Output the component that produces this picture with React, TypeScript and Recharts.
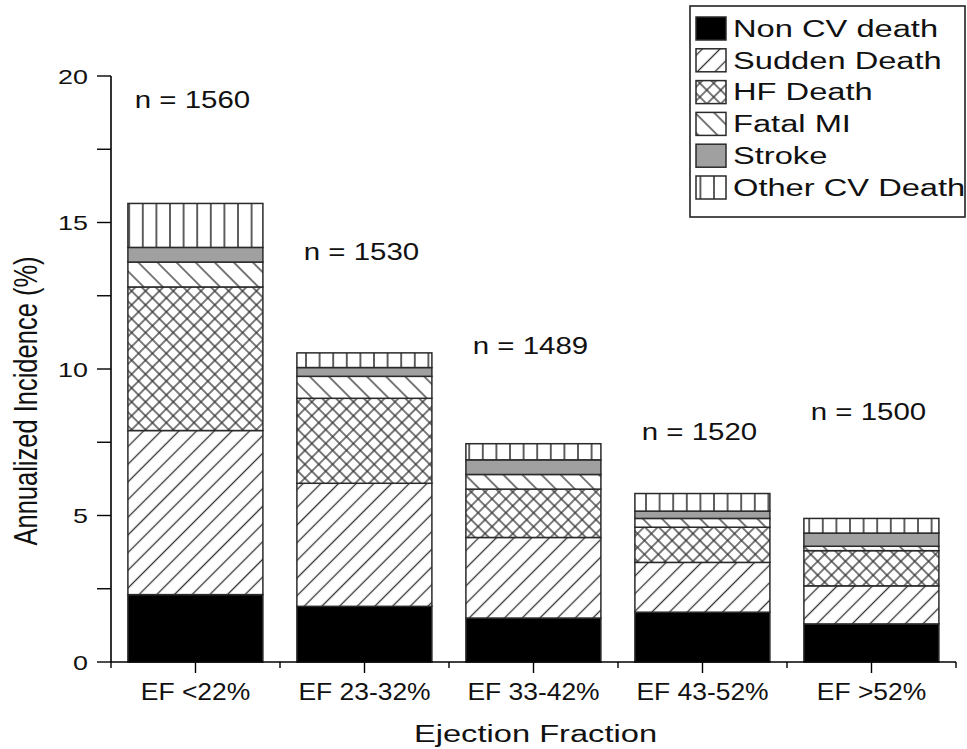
import React from 'react';
import { ComposedChart, Bar, Line, XAxis, YAxis, LabelList } from 'recharts';

// ---------- data ----------
const categories = ['EF <22%', 'EF 23-32%', 'EF 33-42%', 'EF 43-52%', 'EF >52%'];
const nonCvDeath = [2.3, 1.9, 1.5, 1.7, 1.3];
const suddenDeath = [5.6, 4.2, 2.75, 1.7, 1.3];
const hfDeath = [4.9, 2.9, 1.65, 1.2, 1.2];
const fatalMI = [0.85, 0.75, 0.5, 0.3, 0.15];
const strokeDeath = [0.5, 0.3, 0.5, 0.25, 0.45];
const otherCvDeath = [1.5, 0.5, 0.55, 0.6, 0.5];
const nCounts = [1560, 1530, 1489, 1520, 1500];
const nLabelLevel = [19.2, 14.0, 10.8, 7.85, 8.55];
const yTicks = [0, 2.5, 5, 7.5, 10, 12.5, 15, 17.5, 20];

const seriesKeys = ['nonCv', 'sudden', 'hf', 'mi', 'stroke', 'other'];
const seriesNames = ['Non CV death', 'Sudden Death', 'HF Death', 'Fatal MI', 'Stroke', 'Other CV Death'];
const seriesFills = ['#000000', 'url(#p-sudden)', 'url(#p-hf)', 'url(#p-mi)', '#a0a0a0', 'url(#p-other)'];

const data = categories.map((cat, i) => ({
  cat,
  nonCv: nonCvDeath[i],
  sudden: suddenDeath[i],
  hf: hfDeath[i],
  mi: fatalMI[i],
  stroke: strokeDeath[i],
  other: otherCvDeath[i],
  n: nCounts[i],
  nY: nLabelLevel[i],
}));

// ---------- layout ----------
const W = 967;
const H = 749;
const MARGIN = { top: 76, right: 11, bottom: 0, left: 0 };
const Y_AXIS_W = 111;
const X_AXIS_H = 87;
const PLOT_W = W - MARGIN.left - MARGIN.right - Y_AXIS_W;
const BAND = PLOT_W / categories.length;
const X_TICK_SIZE = 11;
const X_TICK_MARGIN = 10;
const FONT = '"Liberation Sans", Arial, Helvetica, sans-serif';
const TEXT = '#111';
const LINE = '#2a2a2a';

const SText = ({ x, y, sx = 1, fs, anchor = 'start', children }: any) => (
  <text
    transform={`translate(${x} ${y}) scale(${sx} 1)`}
    x={0}
    y={0}
    textAnchor={anchor}
    fontSize={fs}
    fontFamily={FONT}
    fill={TEXT}
  >
    {children}
  </text>
);

const XTick = (props: any) => {
  const { x, y, payload, index } = props;
  const axisY = y - X_TICK_SIZE - X_TICK_MARGIN;
  const half = BAND / 2;
  return (
    <g>
      <line x1={x - half} x2={x - half} y1={axisY} y2={axisY + 6} stroke="#000" strokeWidth={1.4} />
      {index === categories.length - 1 && (
        <line x1={x + half} x2={x + half} y1={axisY} y2={axisY + 6} stroke="#000" strokeWidth={1.4} />
      )}
      <SText x={x} y={y + 16.5} sx={1.15} fs={23} anchor="middle">
        {payload.value}
      </SText>
    </g>
  );
};

const YTick = (props: any) => {
  const { x, y, payload } = props;
  const v = payload.value;
  if (v % 5 !== 0) return <g />;
  return (
    <SText x={x} y={y + 7.5} sx={1.28} fs={21} anchor="end">
      {String(v)}
    </SText>
  );
};

const NLabel = (props: any) => {
  const { x, y, value, viewBox } = props;
  const cx = x ?? viewBox?.x;
  const cy = y ?? viewBox?.y;
  return (
    <SText x={cx - 3} y={cy + 8.2} sx={1.28} fs={23} anchor="middle">
      {`n = ${value}`}
    </SText>
  );
};

const makeShape = (fill: string) => (props: any) => {
  const { x, y, width, height } = props;
  if (width == null || height == null) return <g />;
  const h = Math.abs(height);
  const top = height < 0 ? y + height : y;
  return (
    <rect x={x} y={top} width={width} height={h} fill={fill} stroke={LINE} strokeWidth={1.5} />
  );
};

const Patterns = () => (
  <defs>
    <pattern id="p-sudden" patternUnits="userSpaceOnUse" width={12.5} height={12.5} patternTransform="rotate(45)">
      <rect width={12.5} height={12.5} fill="#fff" />
      <line x1={6.25} y1={-1} x2={6.25} y2={13.5} stroke="#333" strokeWidth={1.3} />
    </pattern>
    <pattern id="p-mi" patternUnits="userSpaceOnUse" width={13.5} height={13.5} patternTransform="rotate(-45)">
      <rect width={13.5} height={13.5} fill="#fff" />
      <line x1={6.75} y1={-1} x2={6.75} y2={14.5} stroke="#333" strokeWidth={1.3} />
    </pattern>
    <pattern id="p-hf" patternUnits="userSpaceOnUse" width={9.8} height={9.8} patternTransform="rotate(45)">
      <rect width={9.8} height={9.8} fill="#fff" />
      <line x1={4.9} y1={-1} x2={4.9} y2={10.8} stroke="#333" strokeWidth={1.3} />
      <line x1={-1} y1={4.9} x2={10.8} y2={4.9} stroke="#333" strokeWidth={1.3} />
    </pattern>
    <pattern id="p-other" patternUnits="userSpaceOnUse" width={13.6} height={10}>
      <rect width={13.6} height={10} fill="#fff" />
      <line x1={6.8} y1={-1} x2={6.8} y2={11} stroke="#444" strokeWidth={1.7} />
    </pattern>
  </defs>
);

const LegendBox = () => {
  const boxX = 690;
  const boxY = 6;
  const rowY0 = 28.5;
  const rowStep = 31.8;
  return (
    <g>
      <rect x={boxX} y={boxY} width={W - 2 - boxX} height={211} fill="#fff" stroke="#222" strokeWidth={1.6} />
      {seriesNames.map((name, i) => {
        const cy = rowY0 + i * rowStep;
        return (
          <g key={name}>
            <rect x={696} y={cy - 11.5} width={30} height={23} fill={seriesFills[i]} stroke={LINE} strokeWidth={1.5} />
            <SText x={733} y={cy + 8.3} sx={1.42} fs={23}>
              {name}
            </SText>
          </g>
        );
      })}
    </g>
  );
};

const XTitle = (props: any) => {
  const vb = props.viewBox || { x: 111, width: PLOT_W, y: 662 };
  return (
    <SText x={vb.x + vb.width / 2 + 2} y={742} sx={1.42} fs={23} anchor="middle">
      Ejection Fraction
    </SText>
  );
};

const YTitle = () => (
  <text
    transform={`translate(37 401) rotate(-90) scale(1 1.3)`}
    x={0}
    y={0}
    textAnchor="middle"
    fontSize={25.5}
    fontFamily={FONT}
    fill={TEXT}
  >
    Annualized Incidence (%)
  </text>
);

export default function App() {
  return (
    <div style={{ position: 'absolute', left: 0, top: 0, width: W, height: H, background: '#fff' }}>
      <ComposedChart width={W} height={H} data={data} margin={MARGIN} barCategoryGap="10%">
        <Patterns />
        <XAxis
          dataKey="cat"
          height={X_AXIS_H}
          interval={0}
          tickSize={X_TICK_SIZE}
          tickMargin={X_TICK_MARGIN}
          axisLine={{ stroke: '#000', strokeWidth: 1.6 }}
          tickLine={{ stroke: '#000', strokeWidth: 1.4 }}
          tick={<XTick />}
          label={{ content: <XTitle /> }}
        />
        <YAxis
          type="number"
          domain={[0, 20]}
          ticks={yTicks}
          interval={0}
          width={Y_AXIS_W}
          tickSize={14}
          tickMargin={9}
          axisLine={{ stroke: '#000', strokeWidth: 1.6 }}
          tickLine={{ stroke: '#000', strokeWidth: 1.4 }}
          tick={<YTick />}
          label={{ content: <YTitle /> }}
        />
        {seriesKeys.map((k, i) => (
          <Bar
            key={k}
            dataKey={k}
            name={seriesNames[i]}
            stackId="a"
            fill={seriesFills[i]}
            stroke={LINE}
            strokeWidth={1.5}
            shape={makeShape(seriesFills[i])}
            isAnimationActive={false}
          />
        ))}
        <Line
          dataKey="nY"
          stroke="none"
          dot={false}
          activeDot={false}
          legendType="none"
          isAnimationActive={false}
        >
          <LabelList dataKey="n" content={<NLabel />} />
        </Line>
        <LegendBox />
      </ComposedChart>
    </div>
  );
}
